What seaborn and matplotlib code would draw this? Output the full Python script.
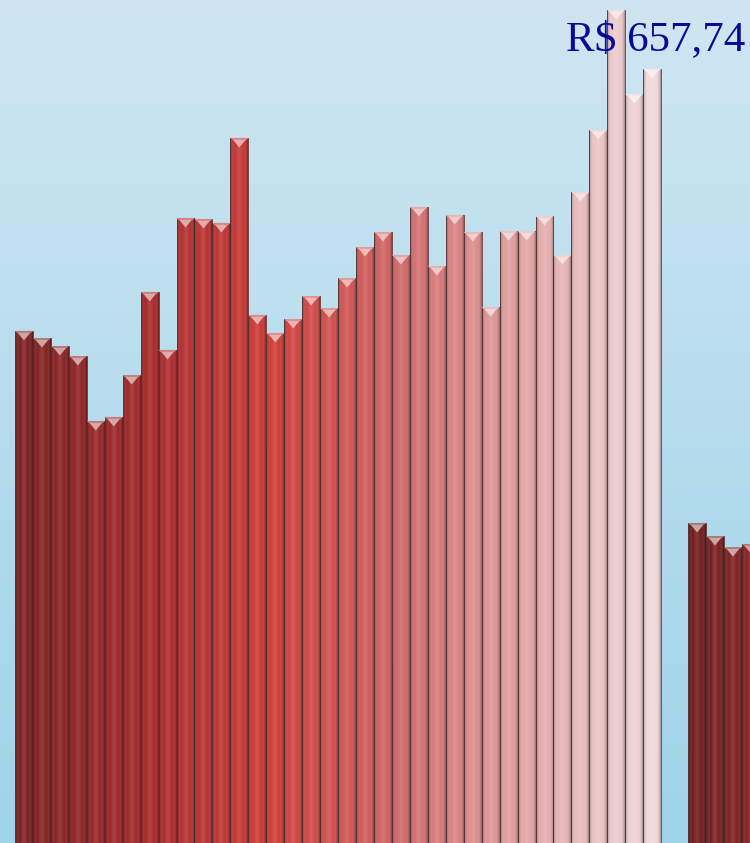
import numpy as np
import pandas as pd
import matplotlib
matplotlib.use("Agg")
import matplotlib.pyplot as plt
import seaborn as sns
from matplotlib.colors import LinearSegmentedColormap, to_rgb
from matplotlib.patches import Polygon

# ---- data ----
group1_values = [404.3, 398.7, 392.4, 384.5, 333.2, 336.4, 369.5, 435.1, 389.3,
                 493.5, 492.7, 489.6, 556.7, 416.9, 402.7, 413.7, 431.9, 422.4,
                 446.1, 470.6, 482.4, 464.3, 502.2, 455.6, 495.9, 482.4, 423.2,
                 483.2, 483.2, 495.1, 464.3, 514.0, 563.0, 657.74, 591.4, 611.2]
group2_values = [252.7, 242.4, 233.7, 236.1]
group1_pos = list(range(36))
group2_pos = [37.5, 38.5, 39.5, 40.5]
label_text = "R$ 657,74"

positions = group1_pos + group2_pos
values = group1_values + group2_values
df = pd.DataFrame({"pos": positions, "value": values})

sns.set_theme(style="white")
fig = plt.figure(figsize=(7.5, 8.43), dpi=100)
ax = fig.add_axes([0, 0, 1, 1])

# background gradient
bg = LinearSegmentedColormap.from_list("bg", ["#9ed3e9", "#cfe6f2"])
grad = np.linspace(0, 1, 256).reshape(-1, 1)
ax.imshow(grad, cmap=bg, origin="lower", aspect="auto", extent=[0, 1, 0, 1],
          transform=ax.transAxes, zorder=0)

sns.barplot(data=df, x="pos", y="value", native_scale=True, width=1.0,
            color="#b03030", edgecolor="#6a3a3a", linewidth=0.6, ax=ax, zorder=2)

cm1 = LinearSegmentedColormap.from_list(
    "g1", ["#7c1f1f", "#a8292a", "#cf3c37", "#d06868", "#e3a5a6", "#f1d8d9"])
cm2 = LinearSegmentedColormap.from_list("g2", ["#701b1b", "#8a2323"])

patches = [p for p in ax.patches]
patches.sort(key=lambda p: p.get_x())
n1 = len(group1_values)
shade = LinearSegmentedColormap.from_list(
    "sh", [(0, 0, 0, 0.32), (1, 1, 1, 0.0), (1, 1, 1, 0.14), (1, 1, 1, 0.0), (0, 0, 0, 0.32)])
hgrad = np.linspace(0, 1, 64).reshape(1, -1)
bevel_h = 7.5
for i, p in enumerate(patches):
    if i < n1:
        c = cm1(i / (n1 - 1))
    else:
        c = cm2((i - n1) / 3)
    p.set_facecolor(c)
    x, w, h = p.get_x(), p.get_width(), p.get_height()
    im = ax.imshow(hgrad, cmap=shade, aspect="auto", extent=[x, x + w, 0, h], zorder=3)
    im.set_clip_path(p)
    rgb = np.array(to_rgb(c))
    light = tuple(rgb + (1 - rgb) * 0.6)
    tri = Polygon([[x + 0.06 * w, h], [x + 0.94 * w, h], [x + 0.5 * w, h - bevel_h]],
                  closed=True, facecolor=light, edgecolor="none", zorder=4)
    ax.add_patch(tri)
    top = Polygon([[x, h], [x + w, h], [x + 0.9 * w, h - 1.5], [x + 0.1 * w, h - 1.5]],
                  closed=True, facecolor=tuple(rgb + (1 - rgb) * 0.4),
                  edgecolor="none", zorder=4)
    ax.add_patch(top)

ax.set_xlim(-1.336, 40.45)
ax.set_ylim(0, 665.6)
ax.set_axis_off()

ax.text(0.993, 0.975, label_text, transform=ax.transAxes, ha="right", va="top",
        fontsize=31, color="#0a0a96", family=["Liberation Serif", "DejaVu Serif"], zorder=10)

fig.savefig("out.png", dpi=100)
